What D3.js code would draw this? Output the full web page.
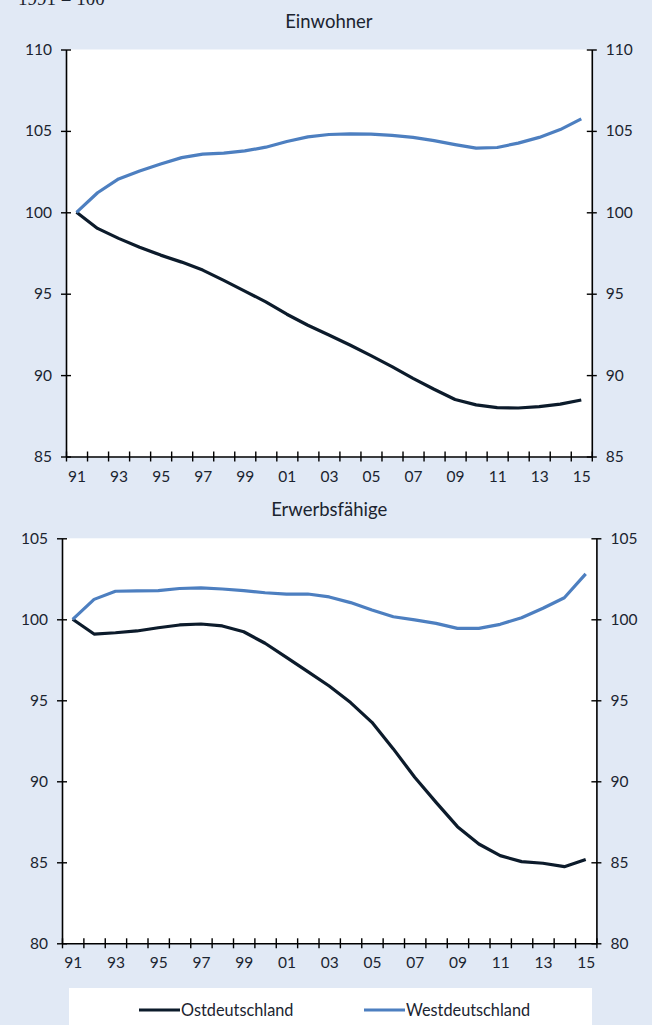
<!DOCTYPE html>
<html><head><meta charset="utf-8">
<script src="https://cdn.jsdelivr.net/npm/d3@7"></script>
<style>
html,body{margin:0;padding:0;background:#e1e9f5;}
svg{display:block;}
text{font-family:Lato,"Open Sans",sans-serif;fill:#1b2430;}
</style></head>
<body>
<svg id="c" width="652" height="1025"></svg>
<script>
const years = [1991,1992,1993,1994,1995,1996,1997,1998,1999,2000,2001,2002,2003,2004,2005,2006,2007,2008,2009,2010,2011,2012,2013,2014,2015];
const labelYears = [1991,1993,1995,1997,1999,2001,2003,2005,2007,2009,2011,2013,2015];
const seriesNames = ["Ostdeutschland","Westdeutschland"];

// Einwohner (1991 = 100)
const einwohnerOst = [100,99.01,98.4,97.85,97.37,96.94,96.45,95.82,95.16,94.5,93.74,93.06,92.46,91.85,91.2,90.52,89.8,89.13,88.5,88.17,88.0,87.98,88.06,88.22,88.47];
const einwohnerWest = [100,101.2,102.05,102.54,102.97,103.36,103.57,103.63,103.77,104.0,104.35,104.63,104.78,104.82,104.8,104.72,104.6,104.4,104.16,103.94,103.98,104.25,104.6,105.08,105.74];
const einwohnerTicks = [85,90,95,100,105,110];

// Erwerbsfähige (1991 = 100)
const erwerbOst = [100,99.09,99.17,99.28,99.48,99.65,99.71,99.59,99.23,98.52,97.65,96.77,95.88,94.86,93.64,92.0,90.25,88.7,87.2,86.13,85.41,85.04,84.94,84.73,85.17];
const erwerbWest = [100,101.23,101.73,101.75,101.77,101.9,101.94,101.87,101.77,101.64,101.56,101.56,101.38,101.03,100.57,100.16,99.96,99.75,99.44,99.44,99.69,100.1,100.68,101.33,102.8];
const erwerbTicks = [80,85,90,95,100,105];

const colors = {Ostdeutschland:"#0c1b2b", Westdeutschland:"#4d7fc0"};
const svg = d3.select("#c");

// header (cut off at the top edge, as in the original)
svg.append("text").attr("x",18).attr("y",5)
  .style("font-family","'Liberation Serif',serif").style("font-size","19px")
  .text("1991 = 100");

function panel(cfg){
  const {x0,x1,yTop,yBot,domain,ticks,ost,west,title,titleY} = cfg;
  const x = d3.scaleLinear().domain([1990.5,2015.5]).range([x0,x1]);
  const y = d3.scaleLinear().domain(domain).range([yBot,yTop]);
  const g = svg.append("g");
  g.append("rect").attr("x",x0).attr("y",yTop).attr("width",x1-x0).attr("height",yBot-yTop).attr("fill","#fff");
  g.append("text").attr("x",(x0+x1)/2).attr("y",titleY).attr("text-anchor","middle")
    .style("font-size","18.5px").text(title);

  const line = d3.line().x((d,i)=>x(years[i])).y(d=>y(d));
  [[ost,"Ostdeutschland"],[west,"Westdeutschland"]].forEach(([vals,name])=>{
    g.append("path").datum(vals).attr("d",line).attr("fill","none")
      .attr("stroke",colors[name]).attr("stroke-width",3.2).attr("stroke-linejoin","round");
  });

  // y axes
  const yl = d3.axisLeft(y).tickValues(ticks).tickSizeInner(5).tickSizeOuter(0).tickPadding(9).tickFormat(d3.format("d"));
  const yr = d3.axisRight(y).tickValues(ticks).tickSizeInner(5).tickSizeOuter(0).tickPadding(9).tickFormat(d3.format("d"));
  const gl = g.append("g").attr("transform",`translate(${x0},0)`).call(yl);
  const gr = g.append("g").attr("transform",`translate(${x1},0)`).call(yr);
  [gl,gr].forEach(a=>{
    a.select(".domain").attr("stroke","#000").attr("stroke-width",1.6);
    a.selectAll(".tick line").attr("stroke","#000").attr("stroke-width",1.4);
    a.selectAll("text").style("font-size","15.5px").attr("fill","#1b2430").style("font-family","Lato,sans-serif");
  });
  gl.selectAll(".tick line").attr("x1",5).attr("x2",-5);
  gr.selectAll(".tick line").attr("x1",-5).attr("x2",5);

  // x axis: ticks at category boundaries
  const bounds = d3.range(1990.5,2016,1);
  const xa = d3.axisBottom(x).tickValues(bounds).tickSizeInner(5).tickSizeOuter(0).tickFormat("");
  const gx = g.append("g").attr("transform",`translate(0,${yBot})`).call(xa);
  gx.select(".domain").attr("stroke","#000").attr("stroke-width",1.6);
  gx.selectAll(".tick line").attr("stroke","#000").attr("stroke-width",1.4).attr("y1",-5).attr("y2",5);
  const xlab = d3.axisBottom(x).tickValues(labelYears).tickSize(0).tickPadding(14)
    .tickFormat(d=>String(d%100).padStart(2,"0"));
  const gxl = g.append("g").attr("transform",`translate(0,${yBot})`).call(xlab);
  gxl.select(".domain").remove();
  gxl.selectAll("text").style("font-size","15.5px").attr("fill","#1b2430").style("font-family","Lato,sans-serif");
}

panel({x0:66,x1:591.8,yTop:49.5,yBot:456.5,domain:[85,110],ticks:einwohnerTicks,
  ost:einwohnerOst,west:einwohnerWest,title:"Einwohner",titleY:28});
panel({x0:62,x1:596.4,yTop:538.3,yBot:943.3,domain:[80,105],ticks:erwerbTicks,
  ost:erwerbOst,west:erwerbWest,title:"Erwerbsfähige",titleY:516});

// legend
const lg = svg.append("g");
lg.append("rect").attr("x",69).attr("y",988).attr("width",523).attr("height",40).attr("fill","#fff");
const lx = d3.scalePoint().domain(seriesNames).range([139,364]);
seriesNames.forEach(n=>{
  lg.append("line").attr("x1",lx(n)).attr("x2",lx(n)+41).attr("y1",1010).attr("y2",1010)
    .attr("stroke",colors[n]).attr("stroke-width",3.2);
  lg.append("text").attr("x",lx(n)+42).attr("y",1015.5).style("font-size","16.3px").text(n);
});
</script>
</body></html>
